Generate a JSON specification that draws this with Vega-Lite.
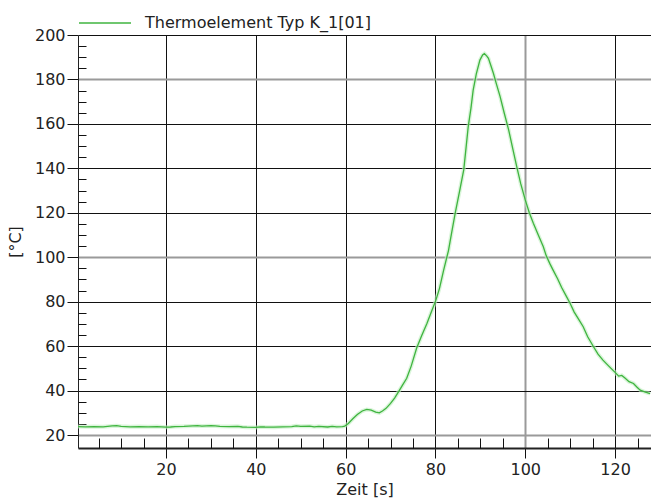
{
  "$schema": "https://vega.github.io/schema/vega-lite/v6.json",
  "width": 573,
  "height": 413,
  "autosize": {"type": "none"},
  "padding": {"left": 78, "top": 35, "right": 0, "bottom": 53},
  "background": "white",
  "config": {
    "view": {"stroke": null},
    "font": "DejaVu Sans"
  },
  "data": {"values": [
    {"t": 0.4, "T": 23.8, "s": "Thermoelement Typ K_1[01]"},
    {"t": 2, "T": 23.7, "s": "Thermoelement Typ K_1[01]"},
    {"t": 4, "T": 23.8, "s": "Thermoelement Typ K_1[01]"},
    {"t": 6, "T": 23.7, "s": "Thermoelement Typ K_1[01]"},
    {"t": 8, "T": 24.1, "s": "Thermoelement Typ K_1[01]"},
    {"t": 9, "T": 24.2, "s": "Thermoelement Typ K_1[01]"},
    {"t": 10, "T": 23.9, "s": "Thermoelement Typ K_1[01]"},
    {"t": 12, "T": 23.7, "s": "Thermoelement Typ K_1[01]"},
    {"t": 14, "T": 23.8, "s": "Thermoelement Typ K_1[01]"},
    {"t": 16, "T": 23.7, "s": "Thermoelement Typ K_1[01]"},
    {"t": 18, "T": 23.8, "s": "Thermoelement Typ K_1[01]"},
    {"t": 20, "T": 23.5, "s": "Thermoelement Typ K_1[01]"},
    {"t": 21, "T": 23.6, "s": "Thermoelement Typ K_1[01]"},
    {"t": 22, "T": 23.8, "s": "Thermoelement Typ K_1[01]"},
    {"t": 24, "T": 23.9, "s": "Thermoelement Typ K_1[01]"},
    {"t": 26, "T": 24.1, "s": "Thermoelement Typ K_1[01]"},
    {"t": 27, "T": 24.2, "s": "Thermoelement Typ K_1[01]"},
    {"t": 28, "T": 24.0, "s": "Thermoelement Typ K_1[01]"},
    {"t": 30, "T": 24.2, "s": "Thermoelement Typ K_1[01]"},
    {"t": 31, "T": 24.1, "s": "Thermoelement Typ K_1[01]"},
    {"t": 32, "T": 23.9, "s": "Thermoelement Typ K_1[01]"},
    {"t": 34, "T": 23.8, "s": "Thermoelement Typ K_1[01]"},
    {"t": 36, "T": 23.9, "s": "Thermoelement Typ K_1[01]"},
    {"t": 37, "T": 23.6, "s": "Thermoelement Typ K_1[01]"},
    {"t": 38, "T": 23.5, "s": "Thermoelement Typ K_1[01]"},
    {"t": 40, "T": 23.4, "s": "Thermoelement Typ K_1[01]"},
    {"t": 41, "T": 23.7, "s": "Thermoelement Typ K_1[01]"},
    {"t": 42, "T": 23.6, "s": "Thermoelement Typ K_1[01]"},
    {"t": 44, "T": 23.5, "s": "Thermoelement Typ K_1[01]"},
    {"t": 46, "T": 23.7, "s": "Thermoelement Typ K_1[01]"},
    {"t": 48, "T": 23.8, "s": "Thermoelement Typ K_1[01]"},
    {"t": 49, "T": 24.1, "s": "Thermoelement Typ K_1[01]"},
    {"t": 50, "T": 23.9, "s": "Thermoelement Typ K_1[01]"},
    {"t": 52, "T": 24.0, "s": "Thermoelement Typ K_1[01]"},
    {"t": 53, "T": 23.7, "s": "Thermoelement Typ K_1[01]"},
    {"t": 54, "T": 23.9, "s": "Thermoelement Typ K_1[01]"},
    {"t": 56, "T": 23.6, "s": "Thermoelement Typ K_1[01]"},
    {"t": 57, "T": 23.9, "s": "Thermoelement Typ K_1[01]"},
    {"t": 58, "T": 23.7, "s": "Thermoelement Typ K_1[01]"},
    {"t": 59.3, "T": 23.8, "s": "Thermoelement Typ K_1[01]"},
    {"t": 59.8, "T": 24.0, "s": "Thermoelement Typ K_1[01]"},
    {"t": 60.6, "T": 25.2, "s": "Thermoelement Typ K_1[01]"},
    {"t": 61.6, "T": 27.3, "s": "Thermoelement Typ K_1[01]"},
    {"t": 62.6, "T": 29.2, "s": "Thermoelement Typ K_1[01]"},
    {"t": 63.7, "T": 30.8, "s": "Thermoelement Typ K_1[01]"},
    {"t": 64.7, "T": 31.5, "s": "Thermoelement Typ K_1[01]"},
    {"t": 65.7, "T": 31.2, "s": "Thermoelement Typ K_1[01]"},
    {"t": 66.7, "T": 30.3, "s": "Thermoelement Typ K_1[01]"},
    {"t": 67.5, "T": 30.0, "s": "Thermoelement Typ K_1[01]"},
    {"t": 68.2, "T": 30.8, "s": "Thermoelement Typ K_1[01]"},
    {"t": 69.0, "T": 32.0, "s": "Thermoelement Typ K_1[01]"},
    {"t": 70.0, "T": 34.2, "s": "Thermoelement Typ K_1[01]"},
    {"t": 70.9, "T": 36.6, "s": "Thermoelement Typ K_1[01]"},
    {"t": 71.8, "T": 39.5, "s": "Thermoelement Typ K_1[01]"},
    {"t": 72.6, "T": 42.2, "s": "Thermoelement Typ K_1[01]"},
    {"t": 73.6, "T": 45.5, "s": "Thermoelement Typ K_1[01]"},
    {"t": 74.6, "T": 51.0, "s": "Thermoelement Typ K_1[01]"},
    {"t": 75.8, "T": 59.0, "s": "Thermoelement Typ K_1[01]"},
    {"t": 76.9, "T": 64.5, "s": "Thermoelement Typ K_1[01]"},
    {"t": 78.1, "T": 70.2, "s": "Thermoelement Typ K_1[01]"},
    {"t": 79.1, "T": 75.5, "s": "Thermoelement Typ K_1[01]"},
    {"t": 80.1, "T": 80.7, "s": "Thermoelement Typ K_1[01]"},
    {"t": 80.9, "T": 86.0, "s": "Thermoelement Typ K_1[01]"},
    {"t": 81.8, "T": 94.0, "s": "Thermoelement Typ K_1[01]"},
    {"t": 82.9, "T": 103.0, "s": "Thermoelement Typ K_1[01]"},
    {"t": 83.6, "T": 111.0, "s": "Thermoelement Typ K_1[01]"},
    {"t": 84.4, "T": 119.8, "s": "Thermoelement Typ K_1[01]"},
    {"t": 85.4, "T": 130.0, "s": "Thermoelement Typ K_1[01]"},
    {"t": 86.3, "T": 139.3, "s": "Thermoelement Typ K_1[01]"},
    {"t": 86.8, "T": 149.0, "s": "Thermoelement Typ K_1[01]"},
    {"t": 87.3, "T": 158.8, "s": "Thermoelement Typ K_1[01]"},
    {"t": 87.9, "T": 167.0, "s": "Thermoelement Typ K_1[01]"},
    {"t": 88.4, "T": 175.2, "s": "Thermoelement Typ K_1[01]"},
    {"t": 89.1, "T": 182.5, "s": "Thermoelement Typ K_1[01]"},
    {"t": 89.9, "T": 188.7, "s": "Thermoelement Typ K_1[01]"},
    {"t": 90.5, "T": 191.0, "s": "Thermoelement Typ K_1[01]"},
    {"t": 90.9, "T": 191.6, "s": "Thermoelement Typ K_1[01]"},
    {"t": 91.4, "T": 190.6, "s": "Thermoelement Typ K_1[01]"},
    {"t": 91.8, "T": 189.5, "s": "Thermoelement Typ K_1[01]"},
    {"t": 92.3, "T": 186.5, "s": "Thermoelement Typ K_1[01]"},
    {"t": 92.9, "T": 182.8, "s": "Thermoelement Typ K_1[01]"},
    {"t": 93.6, "T": 177.8, "s": "Thermoelement Typ K_1[01]"},
    {"t": 94.4, "T": 172.3, "s": "Thermoelement Typ K_1[01]"},
    {"t": 95.3, "T": 165.0, "s": "Thermoelement Typ K_1[01]"},
    {"t": 96.3, "T": 157.3, "s": "Thermoelement Typ K_1[01]"},
    {"t": 97.2, "T": 149.0, "s": "Thermoelement Typ K_1[01]"},
    {"t": 98.1, "T": 140.8, "s": "Thermoelement Typ K_1[01]"},
    {"t": 99.0, "T": 133.0, "s": "Thermoelement Typ K_1[01]"},
    {"t": 100.0, "T": 125.8, "s": "Thermoelement Typ K_1[01]"},
    {"t": 100.9, "T": 120.0, "s": "Thermoelement Typ K_1[01]"},
    {"t": 101.8, "T": 115.3, "s": "Thermoelement Typ K_1[01]"},
    {"t": 102.9, "T": 110.0, "s": "Thermoelement Typ K_1[01]"},
    {"t": 104.0, "T": 104.8, "s": "Thermoelement Typ K_1[01]"},
    {"t": 104.7, "T": 100.5, "s": "Thermoelement Typ K_1[01]"},
    {"t": 105.5, "T": 97.0, "s": "Thermoelement Typ K_1[01]"},
    {"t": 106.2, "T": 94.2, "s": "Thermoelement Typ K_1[01]"},
    {"t": 107.2, "T": 90.3, "s": "Thermoelement Typ K_1[01]"},
    {"t": 108.1, "T": 86.4, "s": "Thermoelement Typ K_1[01]"},
    {"t": 109.1, "T": 82.6, "s": "Thermoelement Typ K_1[01]"},
    {"t": 110.0, "T": 79.2, "s": "Thermoelement Typ K_1[01]"},
    {"t": 110.9, "T": 75.3, "s": "Thermoelement Typ K_1[01]"},
    {"t": 111.9, "T": 72.0, "s": "Thermoelement Typ K_1[01]"},
    {"t": 112.9, "T": 68.7, "s": "Thermoelement Typ K_1[01]"},
    {"t": 113.9, "T": 64.2, "s": "Thermoelement Typ K_1[01]"},
    {"t": 115.2, "T": 59.7, "s": "Thermoelement Typ K_1[01]"},
    {"t": 116.2, "T": 56.4, "s": "Thermoelement Typ K_1[01]"},
    {"t": 117.3, "T": 53.7, "s": "Thermoelement Typ K_1[01]"},
    {"t": 118.6, "T": 51.0, "s": "Thermoelement Typ K_1[01]"},
    {"t": 120.0, "T": 48.2, "s": "Thermoelement Typ K_1[01]"},
    {"t": 120.8, "T": 46.5, "s": "Thermoelement Typ K_1[01]"},
    {"t": 121.5, "T": 46.8, "s": "Thermoelement Typ K_1[01]"},
    {"t": 122.2, "T": 45.6, "s": "Thermoelement Typ K_1[01]"},
    {"t": 123.1, "T": 44.0, "s": "Thermoelement Typ K_1[01]"},
    {"t": 124.1, "T": 43.2, "s": "Thermoelement Typ K_1[01]"},
    {"t": 124.9, "T": 41.5, "s": "Thermoelement Typ K_1[01]"},
    {"t": 125.6, "T": 40.2, "s": "Thermoelement Typ K_1[01]"},
    {"t": 126.6, "T": 39.4, "s": "Thermoelement Typ K_1[01]"},
    {"t": 127.8, "T": 38.6, "s": "Thermoelement Typ K_1[01]"}
  ]},
  "resolve": {"axis": {"x": "independent", "y": "independent"}},
  "layer": [
    {
      "mark": {"type": "line", "color": "#c2efc2", "strokeWidth": 4, "opacity": 0.6},
      "encoding": {
        "x": {"field": "t", "type": "quantitative",
          "scale": {"domain": [0.4, 128.0], "nice": false, "zero": false},
          "axis": {
            "orient": "bottom",
            "values": [20, 40, 60, 80, 100, 120],
            "title": "Zeit [s]",
            "titleFont": "DejaVu Sans", "titleFontSize": 16, "titleFontWeight": "normal", "titleColor": "#222", "titlePadding": 4,
            "labelFont": "DejaVu Sans", "labelFontSize": 16, "labelColor": "#222", "labelPadding": 3,
            "tickSize": 10, "tickColor": "#111", "tickWidth": 1,
            "domainColor": "#222", "domainWidth": 2,
            "grid": true,
            "gridColor": {"condition": {"test": "datum.value === 100", "value": "#9a9a9a"}, "value": "#111"},
            "gridWidth": {"condition": {"test": "datum.value === 100", "value": 2}, "value": 1},
            "gridOpacity": 1
          }
        },
        "y": {"field": "T", "type": "quantitative",
          "scale": {"domain": [14.15, 200], "nice": false, "zero": false},
          "axis": {
            "orient": "left",
            "values": [20, 40, 60, 80, 100, 120, 140, 160, 180, 200],
            "title": "[°C]",
            "titleFont": "DejaVu Sans", "titleFontSize": 16, "titleFontWeight": "normal", "titleColor": "#222", "titlePadding": 11,
            "labelFont": "DejaVu Sans", "labelFontSize": 16, "labelColor": "#222", "labelPadding": 2,
            "tickSize": 11, "tickColor": "#111", "tickWidth": 1,
            "domainColor": "#222", "domainWidth": 1,
            "grid": true,
            "gridColor": {"condition": {"test": "datum.value === 180 || datum.value === 100 || datum.value === 20", "value": "#9a9a9a"}, "value": "#111"},
            "gridWidth": {"condition": {"test": "datum.value === 180 || datum.value === 100 || datum.value === 20", "value": 2}, "value": 1},
            "gridOpacity": 1
          }
        }
      }
    },
    {
      "mark": {"type": "line", "strokeWidth": 1.3},
      "encoding": {
        "x": {"field": "t", "type": "quantitative", "axis": null},
        "y": {"field": "T", "type": "quantitative", "axis": null},
        "color": {"field": "s", "type": "nominal",
          "scale": {"range": ["#3fb43f"]},
          "legend": {
            "orient": "none", "legendX": 0, "legendY": -39, "title": null, "padding": 0,
            "symbolType": "stroke", "symbolSize": 2704, "symbolStrokeWidth": 1.5,
            "labelFont": "DejaVu Sans", "labelFontSize": 16, "labelColor": "#222", "labelOffset": 13, "labelLimit": 0
          }
        }
      }
    },
    {
      "mark": {"type": "line", "opacity": 0},
      "encoding": {
        "x": {"field": "t", "type": "quantitative",
          "axis": {"orient": "bottom", "offset": 0, "values": [5, 10, 15, 25, 30, 35, 45, 50, 55, 65, 70, 75, 85, 90, 95, 105, 110, 115, 125],
            "labels": false, "title": null, "domain": false, "grid": false,
            "tickSize": -10, "tickColor": "#111", "tickWidth": 1}
        },
        "y": {"field": "T", "type": "quantitative",
          "axis": {"orient": "left", "offset": 0, "values": [25, 30, 35, 45, 50, 55, 65, 70, 75, 85, 90, 95, 105, 110, 115, 125, 130, 135, 145, 150, 155, 165, 170, 175, 185, 190, 195],
            "labels": false, "title": null, "domain": false, "grid": false,
            "tickSize": -8, "tickColor": "#111", "tickWidth": 1}
        }
      }
    }
  ]
}
